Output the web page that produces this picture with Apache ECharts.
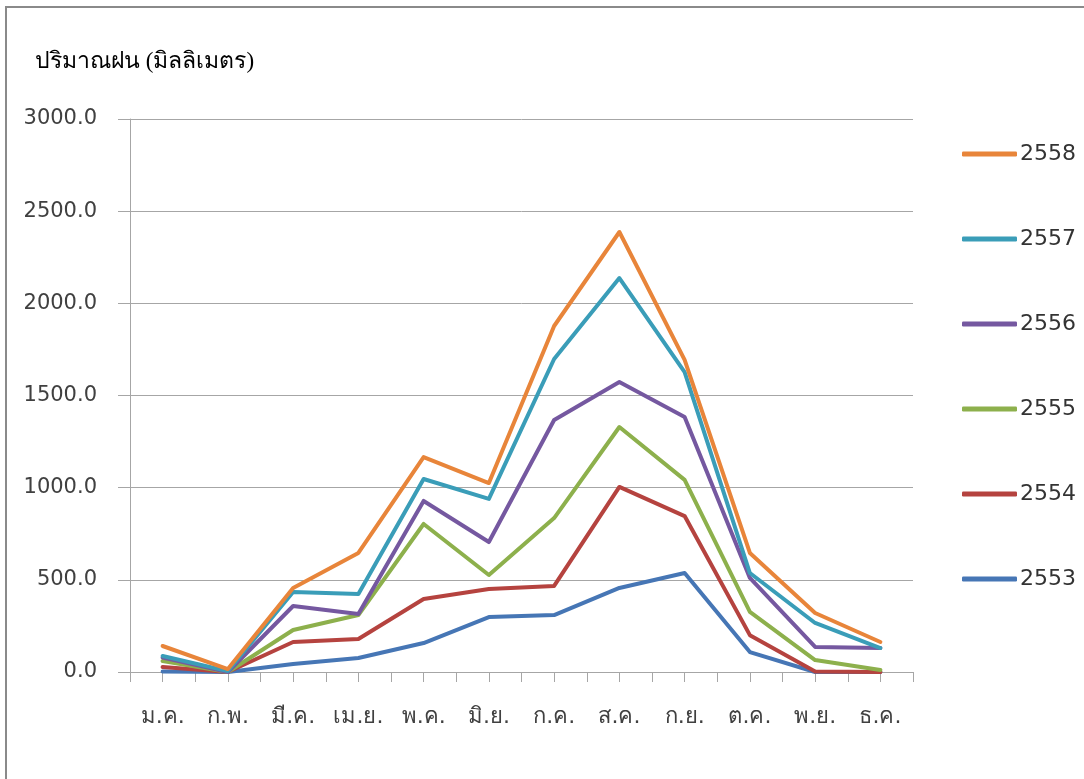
<!DOCTYPE html>
<html>
<head>
<meta charset="utf-8">
<script src="https://cdn.jsdelivr.net/npm/echarts@6/dist/echarts.min.js"></script>
<style>
  html, body { margin: 0; padding: 0; background: #fff; overflow: hidden; }
  #frame { position: absolute; left: 5px; top: 6px; width: 2000px; height: 2000px;
    border: 2px solid #8a8a8a; box-sizing: border-box; }
  #chart { position: absolute; left: 0; top: 0; width: 1084px; height: 779px; }
</style>
</head>
<body>
<div id="frame"></div>
<div id="chart"></div>
<script>
// ── Data ─────────────────────────────────────────────────────────────────────

const months = ['ม.ค.', 'ก.พ.', 'มี.ค.', 'เม.ย.', 'พ.ค.', 'มิ.ย.', 'ก.ค.', 'ส.ค.', 'ก.ย.', 'ต.ค.', 'พ.ย.', 'ธ.ค.'];
const years = ['2553', '2554', '2555', '2556', '2557', '2558'];

const rain2553 = [3, 0, 43, 76, 157, 298, 309, 456, 537, 108, 0, 0];
const rain2554 = [27, 0, 163, 179, 396, 450, 467, 1004, 846, 200, 3, 0];
const rain2555 = [60, 0, 228, 309, 803, 526, 835, 1329, 1042, 326, 65, 11];
const rain2556 = [78, 0, 358, 315, 928, 705, 1367, 1573, 1383, 510, 136, 130];
const rain2557 = [87, 5, 434, 423, 1047, 939, 1698, 2137, 1627, 537, 266, 130];
const rain2558 = [141, 16, 456, 646, 1166, 1025, 1877, 2387, 1693, 646, 320, 163];

const yTicks = { min: 0, max: 3000, step: 500 };

const COLORS = ['#4676b5', '#b5433f', '#8db04c', '#7558a0', '#3a9db8', '#e8853a'];
const seriesData = [rain2553, rain2554, rain2555, rain2556, rain2557, rain2558];

// ── Chart ────────────────────────────────────────────────────────────────────

const FONT = '"DejaVu Sans", sans-serif';
const chart = echarts.init(document.getElementById('chart'), null, { renderer: 'canvas' });

chart.setOption({
  animation: false,
  backgroundColor: 'transparent',
  title: {
    text: 'ปริมาณฝน (มิลลิเมตร)',
    left: 30, top: 45,
    textStyle: { fontSize: 23, fontWeight: 'normal', color: '#000', fontFamily: 'serif' },
  },
  legend: {
    orient: 'vertical',
    left: 962, top: 142, padding: 0,
    data: years.slice().reverse(),
    icon: 'roundRect',
    itemWidth: 55, itemHeight: 5, itemGap: 61,
    textStyle: { fontSize: 22, lineHeight: 24, color: '#333', fontFamily: FONT, padding: [0, 0, 0, -2] },
  },
  grid: { left: 130, top: 119, right: 171, bottom: 107, containLabel: false },
  xAxis: [{
    type: 'category',
    data: months,
    boundaryGap: true,
    axisLine: { show: true, lineStyle: { color: '#a6a6a6', width: 1 } },
    axisTick: { show: false },
    axisLabel: { fontSize: 22, color: '#404040', margin: 34, fontFamily: FONT, interval: 0 },
  }, {
    type: 'category',
    position: 'bottom',
    data: months.flatMap(m => [m + 'a', m + 'b']),
    boundaryGap: true,
    axisLine: { show: false },
    axisTick: { show: true, interval: 0, length: 10, lineStyle: { color: '#a6a6a6' } },
    axisLabel: { show: false },
  }],
  yAxis: {
    type: 'value',
    min: yTicks.min, max: yTicks.max, interval: yTicks.step,
    axisLine: { show: true, lineStyle: { color: '#a6a6a6', width: 1 } },
    axisTick: { show: true, length: 12, lineStyle: { color: '#a6a6a6' } },
    axisLabel: { fontSize: 21, color: '#404040', margin: 33, fontFamily: FONT,
      formatter: v => v.toFixed(1) },
    splitLine: { show: true, lineStyle: { color: '#a6a6a6', width: 1 } },
  },
  series: years.map((y, i) => ({
    name: y,
    type: 'line',
    data: seriesData[i],
    xAxisIndex: 0,
    symbol: 'none',
    color: COLORS[i],
    lineStyle: { width: 4, color: COLORS[i], join: 'round', cap: 'round' },
  })),
});
</script>
</body>
</html>
